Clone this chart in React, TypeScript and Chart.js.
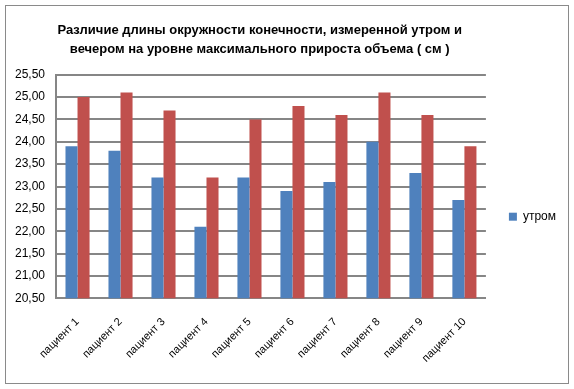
import React, { useEffect, useRef } from "react";
import { Chart, registerables } from "chart.js";

Chart.register(...registerables);

const categories = ["пациент 1", "пациент 2", "пациент 3", "пациент 4", "пациент 5", "пациент 6", "пациент 7", "пациент 8", "пациент 9", "пациент 10"];
const morning = [23.9, 23.8, 23.2, 22.1, 23.2, 22.9, 23.1, 24.0, 23.3, 22.7];
const evening = [25.0, 25.1, 24.7, 23.2, 24.5, 24.8, 24.6, 25.1, 24.6, 23.9];
const titleLines = ["Различие длины окружности конечности, измеренной утром и", "вечером на уровне максимального прироста объема ( см )"];
const yMin = 20.5;
const yMax = 25.5;
const yStep = 0.5;

const FONT = "'Liberation Sans', Arial, sans-serif";
const TITLE_SHIFT = "              ";

const frame = {
  id: "frame",
  beforeDraw(chart: any) {
    const ctx = chart.ctx;
    ctx.save();
    ctx.fillStyle = "#ffffff";
    ctx.fillRect(0, 0, chart.width, chart.height);
    ctx.strokeStyle = "#8a8a8a";
    ctx.lineWidth = 1;
    ctx.strokeRect(5.5, 5.5, 563, 378);
    ctx.restore();
  },
};

export default function App() {
  const ref = useRef<HTMLCanvasElement>(null);
  useEffect(() => {
    if (!ref.current) return;
    const chart = new Chart(ref.current, {
      type: "bar",
      data: {
        labels: categories,
        datasets: [
          { label: "утром", data: morning, backgroundColor: "#4F81BD", borderWidth: 0 },
          { label: "вечером", data: evening, backgroundColor: "#C0504D", borderWidth: 0 },
        ],
      },
      options: {
        responsive: false,
        animation: false,
        devicePixelRatio: 1,
        layout: { padding: { left: 4, right: 8, top: 12, bottom: 7 } },
        datasets: { bar: { categoryPercentage: 0.56, barPercentage: 1 } },
        plugins: {
          title: {
            display: true,
            text: titleLines.map((t) => t + TITLE_SHIFT),
            color: "#000000",
            font: { family: FONT, size: 13, weight: "bold", lineHeight: 1.45 },
            padding: { top: 9, bottom: 16 },
          },
          legend: {
            position: "right",
            title: { display: true, text: " ", font: { size: 12, lineHeight: 1.2 }, padding: { top: 25, bottom: 0 } },
            labels: {
              filter: (item: any) => item.datasetIndex === 0,
              boxWidth: 8,
              boxHeight: 8,
              color: "#000000",
              font: { family: FONT, size: 12 },
              padding: 23,
            },
          },
          tooltip: { enabled: false },
        },
        scales: {
          x: {
            grid: { display: false, drawTicks: false },
            border: { display: true, color: "#868686", width: 2 },
            ticks: {
              color: "#000000",
              font: { family: FONT, size: 11 },
              minRotation: 45,
              maxRotation: 45,
              padding: 17,
              autoSkip: false,
            },
          },
          y: {
            min: yMin,
            max: yMax,
            grid: { color: "#868686", lineWidth: 2, drawTicks: false },
            border: { display: true, color: "#868686", width: 2 },
            ticks: {
              stepSize: yStep,
              color: "#000000",
              padding: 11,
              font: { family: FONT, size: 12 },
              callback: (v: any) => Number(v).toFixed(2).replace(".", ","),
            },
          },
        },
      },
      plugins: [frame],
    });
    return () => chart.destroy();
  }, []);
  return (
    <div style={{ position: "fixed", left: 0, top: 0, width: 574, height: 389, background: "#fff" }}>
      <canvas ref={ref} width={574} height={389} style={{ width: 574, height: 389, display: "block" }} />
    </div>
  );
}
